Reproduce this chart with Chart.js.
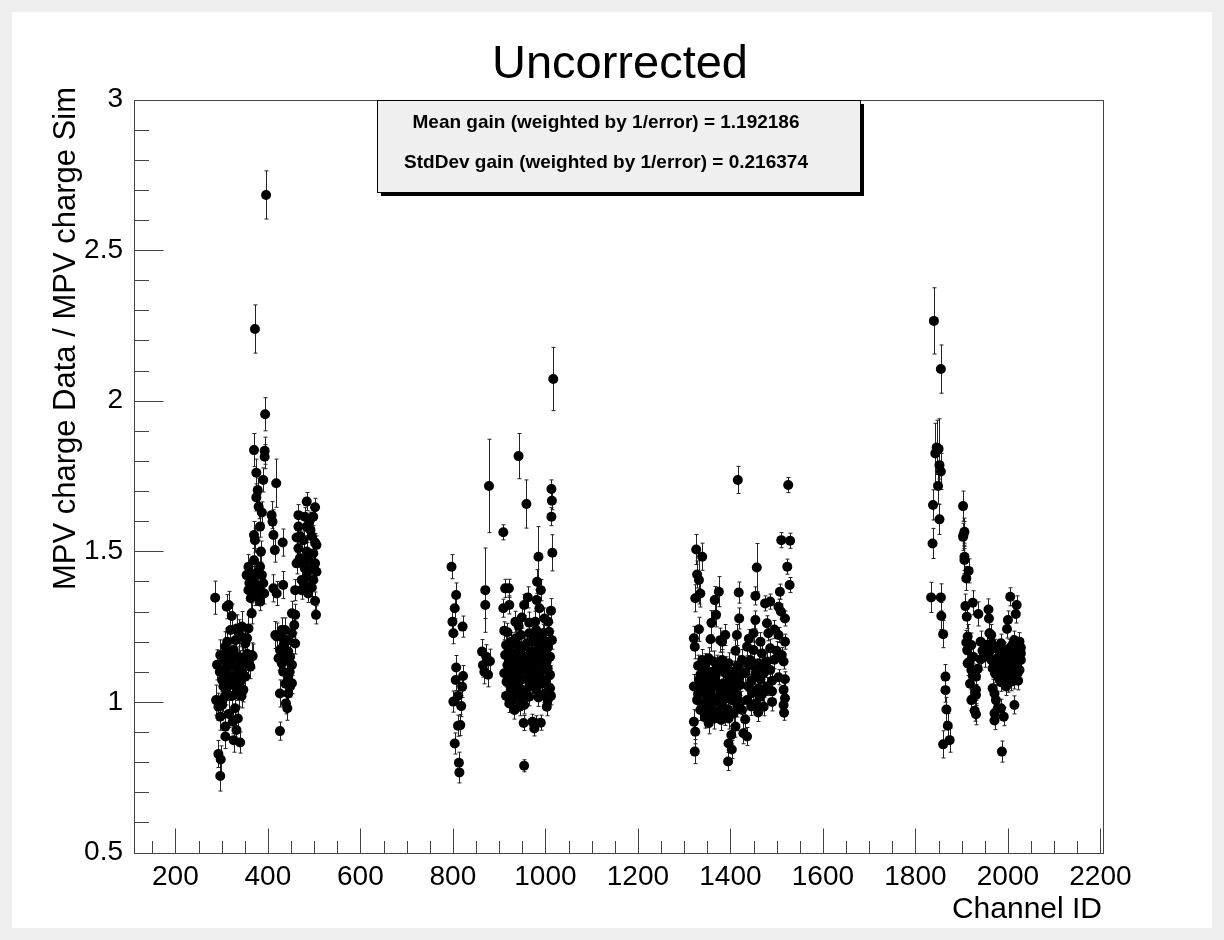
<!DOCTYPE html>
<html><head><meta charset="utf-8">
<script src="https://cdn.jsdelivr.net/npm/chart.js@4.4.0/dist/chart.umd.min.js"></script>
<style>html,body{margin:0;padding:0;background:#fff;}canvas{display:block;}</style>
</head><body>
<canvas id="c" width="1224" height="940"></canvas>
<script>
const chartTitle = 'Uncorrected';
const xAxisTitle = 'Channel ID';
const yAxisTitle = 'MPV charge Data / MPV charge Sim';
const statLines = ['Mean gain (weighted by 1/error) = 1.192186', 'StdDev gain (weighted by 1/error) = 0.216374'];
const xTickValues = [200,400,600,800,1000,1200,1400,1600,1800,2000,2200];
const xTickLabels = ['200','400','600','800','1000','1200','1400','1600','1800','2000','2200'];
const yTickValues = [0.5,1,1.5,2,2.5,3];
const yTickLabels = ['0.5','1','1.5','2','2.5','3'];

// [channel, gain, error]
const clusterA = [
[396,2.683,0.080],[372,2.238,0.080],[394,1.955,0.055],[370,1.836,0.055],[393,1.834,0.045],[393,1.814,0.040],[375,1.761,0.045],[390,1.737,0.040],[418,1.726,0.080],[378,1.703,0.040],[375,1.679,0.045],[380,1.648,0.040],[387,1.629,0.035],[408,1.620,0.045],[410,1.598,0.040],[383,1.582,0.035],[370,1.554,0.045],[372,1.537,0.040],[412,1.554,0.050],[432,1.529,0.045],[415,1.504,0.040],[385,1.499,0.035],[358,1.449,0.040],[354,1.421,0.035],[362,1.427,0.040],[383,1.449,0.035],[387,1.421,0.030],[390,1.394,0.035],[369,1.394,0.040],[358,1.371,0.035],[387,1.360,0.030],[363,1.344,0.035],[383,1.333,0.030],[365,1.294,0.035],[412,1.377,0.045],[419,1.360,0.040],[433,1.388,0.045],[286,1.346,0.055],[315,1.322,0.045],[311,1.316,0.040],[322,1.285,0.040],[459,1.371,0.035],
[370,1.470,0.040],[377,1.430,0.035],[366,1.410,0.040],[378,1.380,0.035],[372,1.355,0.035],[392,1.360,0.035],[360,1.395,0.040],
[484,1.665,0.030],[502,1.646,0.030],[466,1.620,0.035],[480,1.615,0.030],[498,1.615,0.030],[466,1.582,0.035],[484,1.582,0.030],[492,1.571,0.030],[462,1.546,0.035],[477,1.537,0.030],[502,1.529,0.030],[505,1.521,0.030],[466,1.510,0.035],[484,1.499,0.030],[498,1.493,0.030],[469,1.477,0.030],[487,1.471,0.030],[462,1.460,0.035],[502,1.460,0.030],[480,1.444,0.030],[491,1.438,0.030],[505,1.432,0.030],[484,1.416,0.030],[473,1.405,0.030],[498,1.405,0.030],[484,1.383,0.030],[473,1.371,0.030],[487,1.360,0.030],[502,1.335,0.030],[504,1.289,0.030],[452,1.294,0.040],[457,1.255,0.040],[459,1.289,0.035],
[470,1.550,0.030],[490,1.600,0.030],[495,1.550,0.030],[477,1.460,0.030],[494,1.470,0.030],[478,1.390,0.030],[495,1.380,0.030],
[437,1.239,0.040],[452,1.228,0.035],[419,1.217,0.045],[444,1.205,0.040],[434,1.189,0.040],[459,1.194,0.035],[426,1.172,0.045],[444,1.167,0.040],[423,1.145,0.040],[441,1.139,0.040],[430,1.128,0.040],[452,1.123,0.035],[444,1.084,0.040],[448,1.051,0.035],[452,1.062,0.035],[444,1.028,0.040],[426,1.028,0.045],[439,0.995,0.035],[442,0.979,0.040],[426,0.903,0.030],[416,1.222,0.045],[430,1.239,0.040],
[433,1.210,0.040],[448,1.150,0.040],[436,1.160,0.040],[447,1.100,0.040],[433,1.100,0.040],[438,1.060,0.040],
[319,1.239,0.050],[333,1.244,0.045],[344,1.250,0.050],[358,1.244,0.045],[355,1.211,0.045],[337,1.228,0.045],[351,1.194,0.040],[365,1.156,0.040],[308,1.183,0.050],[297,1.156,0.050],[290,1.123,0.050],[304,1.139,0.045],[315,1.161,0.045],[326,1.172,0.045],[337,1.150,0.045],[347,1.139,0.040],[358,1.123,0.040],[319,1.117,0.045],[304,1.106,0.045],[333,1.111,0.045],[344,1.100,0.040],[311,1.089,0.045],[326,1.084,0.045],[351,1.084,0.040],[301,1.073,0.045],[340,1.067,0.040],[319,1.056,0.045],[333,1.045,0.040],[347,1.040,0.040],[304,1.051,0.045],[337,1.023,0.040],[304,1.012,0.045],[293,0.984,0.045],[301,0.990,0.045],[329,0.979,0.040],[297,0.951,0.045],[324,0.934,0.040],[308,0.918,0.040],[332,0.907,0.040],[308,0.885,0.040],[326,0.873,0.040],[340,0.865,0.035],[293,0.827,0.045],[298,0.809,0.045],[297,0.754,0.050],[288,1.006,0.050],[362,1.117,0.040],[367,1.152,0.040],
[312,1.200,0.045],[330,1.205,0.045],[345,1.215,0.045],[296,1.100,0.050],[312,1.130,0.045],[322,1.140,0.045],[340,1.125,0.045],[355,1.160,0.040],[315,1.070,0.045],[327,1.060,0.045],[344,1.085,0.040],[310,1.035,0.045],[322,1.020,0.045],[343,1.020,0.040],[315,0.960,0.045],[335,0.945,0.040]
];
const clusterB = [
[1017,2.072,0.105],[942,1.816,0.075],[878,1.717,0.155],[959,1.657,0.080],[909,1.563,0.025],[1013,1.707,0.030],[1014,1.668,0.030],[1013,1.615,0.030],[1015,1.495,0.060],[797,1.449,0.040],[985,1.482,0.100],[982,1.399,0.040],[990,1.371,0.035],[981,1.338,0.035],[870,1.371,0.140],[870,1.322,0.045],[913,1.377,0.030],[921,1.377,0.030],[909,1.311,0.030],[922,1.322,0.030],[911,1.236,0.030],[918,1.231,0.030],[807,1.355,0.040],[804,1.311,0.035],[799,1.266,0.040],[801,1.228,0.035],[821,1.250,0.035],[962,1.347,0.035],[954,1.322,0.035],[949,1.280,0.035],[942,1.252,0.030],[935,1.266,0.035],[965,1.263,0.035],[978,1.266,0.035],[998,1.277,0.035],[1006,1.266,0.035],[1012,1.303,0.040],[987,1.311,0.035],
[915,1.189,0.030],[926,1.200,0.030],[936,1.211,0.030],[947,1.222,0.030],[913,1.156,0.030],[929,1.161,0.030],[944,1.172,0.030],[954,1.183,0.030],[918,1.122,0.030],[933,1.128,0.030],[949,1.133,0.030],[911,1.095,0.030],[928,1.089,0.030],[942,1.100,0.030],[958,1.106,0.030],[916,1.067,0.030],[936,1.062,0.030],[926,1.034,0.030],[922,0.995,0.030],[933,0.973,0.030],[944,0.984,0.030],[954,0.990,0.030],[929,1.006,0.030],[947,1.012,0.030],
[920,1.178,0.030],[940,1.189,0.030],[960,1.195,0.030],[921,1.139,0.030],[941,1.145,0.030],[958,1.150,0.030],[923,1.111,0.030],[938,1.117,0.030],[953,1.120,0.030],[920,1.080,0.030],[935,1.080,0.030],[950,1.075,0.030],[925,1.050,0.030],[945,1.045,0.030],[960,1.078,0.030],[940,1.030,0.030],[958,1.030,0.030],[915,1.020,0.030],
[965,1.228,0.030],[980,1.239,0.030],[994,1.228,0.030],[1008,1.233,0.030],[972,1.200,0.030],[987,1.205,0.030],[1001,1.200,0.030],[1014,1.205,0.030],[969,1.167,0.030],[983,1.172,0.030],[998,1.161,0.030],[1010,1.150,0.030],[965,1.133,0.030],[978,1.139,0.030],[992,1.128,0.030],[1005,1.111,0.030],[972,1.095,0.030],[987,1.089,0.030],[1001,1.073,0.030],[965,1.051,0.030],[980,1.040,0.030],[998,1.028,0.030],[965,1.017,0.030],[1005,1.006,0.030],[1003,0.984,0.030],[980,0.929,0.025],[990,0.931,0.025],[972,0.934,0.025],[976,0.912,0.025],[954,0.788,0.020],[953,0.930,0.025],
[975,1.215,0.030],[990,1.185,0.030],[1005,1.180,0.030],[975,1.150,0.030],[990,1.150,0.030],[1003,1.135,0.030],[975,1.115,0.030],[994,1.105,0.030],[1010,1.090,0.030],[978,1.070,0.030],[992,1.060,0.030],[1010,1.045,0.030],[985,1.015,0.030],[1012,1.020,0.030],
[863,1.167,0.040],[872,1.150,0.040],[868,1.100,0.040],[865,1.122,0.040],[880,1.135,0.040],[876,1.090,0.040],
[807,1.114,0.040],[806,1.073,0.035],[822,1.086,0.035],[820,1.050,0.035],[811,1.020,0.035],[801,1.001,0.035],[818,0.986,0.035],[811,0.921,0.035],[816,0.923,0.035],[804,0.862,0.035],[813,0.798,0.035],[814,0.766,0.035]
];
const clusterC = [
[1416,1.737,0.045],[1326,1.506,0.050],[1339,1.482,0.045],[1328,1.423,0.045],[1332,1.405,0.080],[1324,1.344,0.045],[1335,1.360,0.045],[1375,1.366,0.050],[1366,1.338,0.045],[1418,1.363,0.035],[1332,1.241,0.040],[1321,1.211,0.040],[1323,1.183,0.040],[1359,1.263,0.040],[1369,1.289,0.040],[1419,1.277,0.035],[1357,1.208,0.040],[1378,1.205,0.040],[1389,1.222,0.035],[1382,1.200,0.035],[1414,1.222,0.035],[1411,1.170,0.035],
[1339,1.139,0.035],[1353,1.145,0.035],[1364,1.134,0.035],[1382,1.139,0.035],[1396,1.128,0.035],[1425,1.139,0.035],[1342,1.106,0.035],[1360,1.100,0.035],[1375,1.106,0.035],[1389,1.095,0.035],[1407,1.100,0.035],[1428,1.095,0.035],[1332,1.073,0.035],[1349,1.067,0.035],[1367,1.073,0.035],[1385,1.062,0.035],[1403,1.067,0.035],[1421,1.056,0.035],[1321,1.051,0.040],[1339,1.034,0.035],[1357,1.028,0.035],[1378,1.034,0.035],[1396,1.028,0.035],[1414,1.023,0.035],[1328,1.006,0.035],[1346,0.995,0.035],[1364,1.001,0.035],[1382,0.990,0.035],[1335,0.973,0.035],[1353,0.962,0.035],[1371,0.967,0.035],[1389,0.957,0.035],[1407,0.962,0.035],[1425,0.973,0.035],[1321,0.934,0.040],[1353,0.929,0.035],[1396,0.945,0.035],[1411,0.918,0.035],[1428,0.896,0.035],[1324,0.901,0.040],[1323,0.835,0.040],[1395,0.802,0.030],[1396,0.862,0.030],[1403,0.842,0.030],[1402,0.890,0.030],
[1330,1.120,0.035],[1346,1.125,0.035],[1372,1.120,0.035],[1390,1.115,0.035],[1416,1.120,0.035],[1335,1.090,0.035],[1350,1.085,0.035],[1368,1.088,0.035],[1398,1.080,0.035],[1418,1.080,0.035],[1342,1.050,0.035],[1360,1.048,0.035],[1374,1.052,0.035],[1393,1.045,0.035],[1410,1.042,0.035],[1330,1.025,0.035],[1350,1.015,0.035],[1370,1.012,0.035],[1388,1.010,0.035],[1405,1.005,0.035],[1422,1.000,0.035],[1342,0.985,0.035],[1360,0.980,0.035],[1395,0.975,0.035],[1415,0.985,0.035],[1345,0.948,0.035],[1365,0.945,0.035],[1380,0.940,0.035],
[1525,1.720,0.025],[1510,1.537,0.025],[1529,1.535,0.025],[1457,1.446,0.080],[1523,1.449,0.025],[1528,1.388,0.025],[1454,1.352,0.030],[1507,1.366,0.025],[1475,1.327,0.025],[1486,1.333,0.025],[1504,1.316,0.025],[1509,1.300,0.025],[1518,1.277,0.025],[1454,1.272,0.030],[1450,1.228,0.030],[1479,1.261,0.025],[1482,1.228,0.025],[1504,1.222,0.025],[1518,1.200,0.025],[1511,1.156,0.025],[1515,1.134,0.025],
[1436,1.183,0.030],[1450,1.172,0.030],[1468,1.161,0.030],[1486,1.178,0.030],[1443,1.139,0.030],[1461,1.128,0.030],[1479,1.134,0.030],[1432,1.095,0.030],[1454,1.089,0.030],[1472,1.095,0.030],[1486,1.106,0.030],[1439,1.051,0.030],[1461,1.045,0.030],[1479,1.051,0.030],[1436,1.006,0.030],[1454,0.995,0.030],[1472,0.984,0.030],[1464,1.017,0.030],[1504,1.082,0.025],[1518,1.075,0.025],[1515,1.040,0.025],[1518,1.012,0.025],[1515,0.990,0.025],[1516,0.964,0.025],[1432,0.942,0.030],[1436,0.885,0.030],
[1440,1.120,0.030],[1455,1.110,0.030],[1470,1.115,0.030],[1445,1.070,0.030],[1465,1.075,0.030],[1490,1.070,0.030],[1448,1.030,0.030],[1470,1.030,0.030],[1490,1.035,0.030],[1445,0.985,0.030],[1460,0.965,0.030],[1490,1.000,0.030],[1495,1.140,0.030],[1500,1.170,0.030],[1440,1.210,0.030],[1465,1.200,0.030],[1495,1.240,0.030]
];
const clusterD = [
[1840,2.265,0.110],[1855,2.105,0.080],[1843,1.825,0.100],[1846,1.845,0.090],[1850,1.840,0.100],[1852,1.786,0.060],[1855,1.765,0.060],[1849,1.717,0.060],[1838,1.654,0.050],[1852,1.606,0.050],[1837,1.526,0.050],[1834,1.347,0.050],[1855,1.347,0.045],[1856,1.285,0.045],[1860,1.225,0.045],[1865,1.084,0.040],[1865,1.039,0.040],[1867,0.975,0.040],[1870,0.921,0.040],[1860,0.859,0.045],[1874,0.873,0.040],
[1903,1.650,0.050],[1904,1.554,0.045],[1906,1.565,0.045],[1903,1.548,0.045],[1906,1.482,0.045],[1906,1.471,0.045],[1915,1.435,0.040],[1910,1.410,0.040],[1908,1.318,0.040],[1911,1.283,0.040],[1924,1.329,0.040],[1936,1.292,0.040],[1913,1.217,0.040],[1910,1.197,0.040],[1912,1.172,0.040],[1921,1.189,0.040],[1941,1.200,0.035],[1941,1.141,0.035],[1913,1.128,0.040],[1917,1.133,0.040],[1921,1.106,0.040],[1924,1.086,0.040],[1931,1.084,0.035],[1931,1.040,0.035],[1921,1.006,0.035],[1931,1.023,0.035],[1928,0.971,0.035],[1931,0.959,0.035],
[1925,1.150,0.040],[1918,1.060,0.040],[1935,1.110,0.035],
[1958,1.307,0.035],[1959,1.277,0.035],[1960,1.228,0.035],[1964,1.222,0.035],[2005,1.349,0.030],[2019,1.322,0.030],[2017,1.292,0.030],[2000,1.272,0.030],[1998,1.242,0.030],[2014,1.205,0.030],[2025,1.200,0.030],[2028,1.139,0.030],[2021,1.095,0.030],[2000,1.062,0.030],[2007,1.067,0.030],[2014,1.073,0.030],[1996,1.051,0.030],
[1960,1.167,0.030],[1971,1.178,0.030],[1982,1.172,0.030],[1992,1.167,0.030],[2003,1.178,0.030],[2014,1.167,0.030],[2028,1.161,0.030],[1964,1.139,0.030],[1977,1.145,0.030],[1989,1.139,0.030],[2001,1.145,0.030],[2013,1.133,0.030],[1967,1.111,0.030],[1982,1.106,0.030],[1992,1.117,0.030],[2007,1.106,0.030],[1978,1.084,0.030],[2025,1.106,0.030],
[1965,1.195,0.030],[1985,1.195,0.030],[2010,1.190,0.030],[1995,1.155,0.030],[2020,1.150,0.030],[1970,1.125,0.030],[1985,1.125,0.030],[2000,1.125,0.030],[2018,1.120,0.030],[1972,1.095,0.030],[1990,1.090,0.030],[2000,1.095,0.030],[2015,1.090,0.030],[1985,1.065,0.030],[1993,1.072,0.030],[2010,1.085,0.030],[2022,1.070,0.030],[2028,1.180,0.030],[1955,1.190,0.035],[1950,1.150,0.035],[1945,1.170,0.035],
[1967,1.045,0.030],[1971,1.028,0.030],[1974,1.006,0.030],[1978,0.979,0.030],[1971,0.962,0.030],[1985,0.979,0.030],[1991,0.951,0.030],[2014,0.990,0.030],[1971,0.938,0.030],[1987,0.835,0.035]
];

const allPoints = clusterA.concat(clusterB, clusterC, clusterD);
const FONT = "'Liberation Sans', Arial, Helvetica, sans-serif";

const backgroundPlugin = {
  id: 'bg',
  beforeDraw(chart) {
    const ctx = chart.ctx;
    ctx.save();
    ctx.fillStyle = '#efefef';
    ctx.fillRect(0, 0, chart.width, chart.height);
    ctx.fillStyle = '#ffffff';
    ctx.fillRect(12, 12, 1200, 916);
    ctx.restore();
  }
};

const errorBarPlugin = {
  id: 'errbars',
  beforeDatasetsDraw(chart) {
    const ctx = chart.ctx, xs = chart.scales.x, ys = chart.scales.y;
    const a = chart.chartArea;
    ctx.save();
    ctx.beginPath();
    ctx.rect(a.left, a.top, a.right - a.left, a.bottom - a.top);
    ctx.clip();
    ctx.strokeStyle = '#222';
    ctx.lineWidth = 1;
    ctx.beginPath();
    allPoints.forEach(p => {
      const x = Math.round(xs.getPixelForValue(p[0])) + 0.5;
      const y1 = ys.getPixelForValue(p[1] - p[2]);
      const y2 = ys.getPixelForValue(p[1] + p[2]);
      ctx.moveTo(x, y1); ctx.lineTo(x, y2);
      ctx.moveTo(x - 2, y1); ctx.lineTo(x + 2, y1);
      ctx.moveTo(x - 2, y2); ctx.lineTo(x + 2, y2);
    });
    ctx.stroke();
    ctx.restore();
  }
};

const framePlugin = {
  id: 'frame',
  afterDatasetsDraw(chart) {
    const ctx = chart.ctx, xs = chart.scales.x, ys = chart.scales.y;
    const a = chart.chartArea;
    ctx.save();
    ctx.strokeStyle = '#444';
    ctx.lineWidth = 1;
    ctx.strokeRect(Math.round(a.left) + 0.5, Math.round(a.top) + 0.5, Math.round(a.right - a.left), Math.round(a.bottom - a.top));
    ctx.beginPath();
    const b = Math.round(a.bottom) + 0.5, l = Math.round(a.left) + 0.5;
    for (let v = 150; v <= 2204; v += 50) {
      const px = Math.round(xs.getPixelForValue(v)) + 0.5;
      if (px < a.left || px > a.right) continue;
      const len = (v % 200 === 0) ? 25 : 12.5;
      ctx.moveTo(px, b); ctx.lineTo(px, b - len);
    }
    for (let i = 5; i <= 30; i++) {
      const v = i / 10;
      const py = Math.round(ys.getPixelForValue(v)) + 0.5;
      const len = (i % 5 === 0) ? 29 : 14.5;
      ctx.moveTo(l, py); ctx.lineTo(l + len, py);
    }
    ctx.stroke();
    ctx.restore();
  }
};

const textPlugin = {
  id: 'texts',
  afterDraw(chart) {
    const ctx = chart.ctx;
    ctx.save();
    ctx.fillStyle = '#000';
    ctx.textAlign = 'center';
    ctx.textBaseline = 'alphabetic';
    ctx.font = '47px ' + FONT;
    ctx.fillText(chartTitle, 620, 78);
    ctx.font = '30px ' + FONT;
    ctx.textAlign = 'right';
    ctx.fillText(xAxisTitle, 1102, 918);
    ctx.save();
    ctx.font = '31px ' + FONT;
    ctx.translate(75, 87);
    ctx.rotate(-Math.PI / 2);
    ctx.textAlign = 'right';
    ctx.fillText(yAxisTitle, 0, 0);
    ctx.restore();
    // stats box with shadow
    const bx = 377, by = 100, bw = 483, bh = 92;
    ctx.fillStyle = '#000';
    ctx.fillRect(bx + 4, by + 4, bw, bh);
    ctx.fillStyle = '#f0f0f0';
    ctx.fillRect(bx, by, bw, bh);
    ctx.strokeStyle = '#000';
    ctx.lineWidth = 1;
    ctx.strokeRect(bx + 0.5, by + 0.5, bw, bh);
    ctx.fillStyle = '#000';
    ctx.font = 'bold 19px ' + FONT;
    ctx.textAlign = 'center';
    ctx.fillText(statLines[0], 606, 128);
    ctx.fillText(statLines[1], 606, 168);
    ctx.restore();
  }
};

new Chart(document.getElementById('c'), {
  type: 'scatter',
  data: {
    datasets: [{
      data: allPoints.map(p => ({x: p[0], y: p[1]})),
      pointRadius: 5,
      pointHoverRadius: 5,
      pointBackgroundColor: '#000',
      pointBorderWidth: 0,
      showLine: false
    }]
  },
  options: {
    responsive: false,
    animation: false,
    devicePixelRatio: 1,
    events: [],
    layout: {padding: {left: 0, right: 121.5, top: 99.5, bottom: 0}},
    plugins: {legend: {display: false}, tooltip: {enabled: false}, title: {display: false}},
    scales: {
      x: {
        type: 'linear', min: 110.5, max: 2204.5,
        grid: {display: false, drawTicks: false},
        border: {display: false},
        afterBuildTicks: s => { s.ticks = xTickValues.map(v => ({value: v})); },
        afterFit: s => { s.height = 87.5; },
        ticks: {padding: 8, color: '#000', autoSkip: false, maxRotation: 0,
          font: {family: FONT, size: 28},
          callback: (v, i) => xTickLabels[i]}
      },
      y: {
        type: 'linear', min: 0.5, max: 3,
        grid: {display: false, drawTicks: false},
        border: {display: false},
        afterBuildTicks: s => { s.ticks = yTickValues.map(v => ({value: v})); },
        afterFit: s => { s.width = 134; },
        ticks: {padding: 11, color: '#000', autoSkip: false,
          font: {family: FONT, size: 28},
          callback: (v, i) => yTickLabels[i]}
      }
    }
  },
  plugins: [backgroundPlugin, errorBarPlugin, framePlugin, textPlugin]
});
</script>
</body></html>
